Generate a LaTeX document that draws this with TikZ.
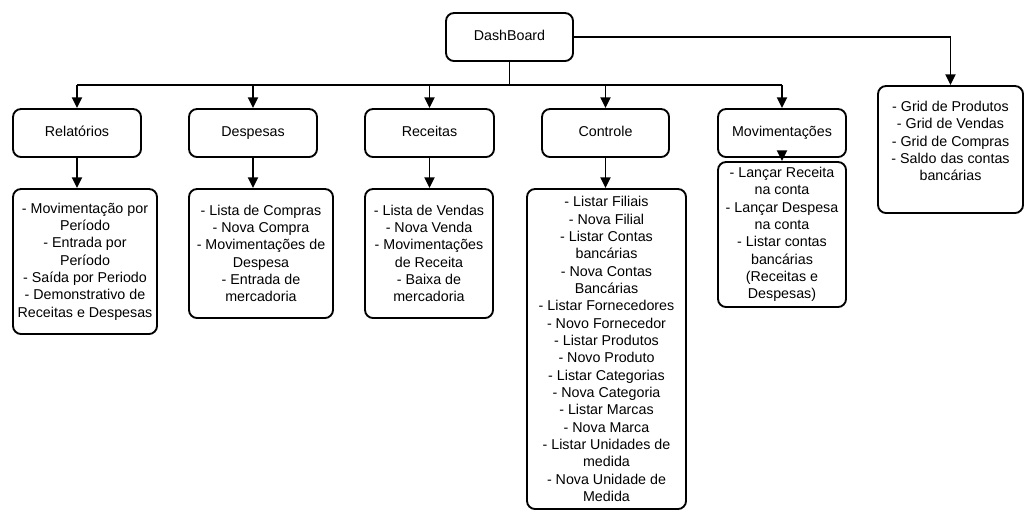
\documentclass[tikz,border=0pt]{standalone}
\usepackage{fontspec}
\setmainfont{Liberation Sans}
\usetikzlibrary{arrows.meta}
\begin{document}
\begin{tikzpicture}[x=0.75pt,y=-0.75pt,
  box/.style={draw, line width=1.4pt, rounded corners=6pt, inner sep=0pt, align=center,
    font=\fontsize{10.7}{13}\selectfont},
  one/.style={text height=7.7pt, text depth=2.3pt},
  arr/.style={line width=1.4pt, -{Triangle[width=7.5pt,length=8pt]}},
  ln/.style={line width=1.4pt}]
\useasboundingbox (0,0) rectangle (1036,526);
% level 0
\node[box, one, minimum width=127*0.75pt, minimum height=48*0.75pt] (dash) at (509.5,37) {DashBoard};
% level 1
\node[box, one, minimum width=128*0.75pt, minimum height=48*0.75pt] (rel) at (77,133) {Relatórios};
\node[box, one, minimum width=128*0.75pt, minimum height=48*0.75pt] (desp) at (253,133) {Despesas};
\node[box, one, minimum width=129*0.75pt, minimum height=48*0.75pt] (rec) at (429.5,133) {Receitas};
\node[box, one, minimum width=127*0.75pt, minimum height=48*0.75pt] (ctrl) at (605.5,133) {Controle};
\node[box, one, minimum width=128*0.75pt, minimum height=48*0.75pt] (mov) at (782,133) {Movimentações};
\node[box, minimum width=145*0.75pt, minimum height=127*0.75pt] (grid) at (950.5,149.5)
  {- Grid de Produtos\\- Grid de Vendas\\- Grid de Compras\\- Saldo das contas\\bancárias\\~};
% level 2
\node[box, minimum width=144*0.75pt, minimum height=145*0.75pt] (relc) at (85,261.5)
  {- Movimentação por\\Período\\- Entrada por\\Período\\- Saída por Periodo\\- Demonstrativo de\\Receitas e Despesas};
\node[box, minimum width=144*0.75pt, minimum height=129*0.75pt] (despc) at (261,253.5)
  {- Lista de Compras\\- Nova Compra\\- Movimentações de\\Despesa\\- Entrada de\\mercadoria};
\node[box, minimum width=128*0.75pt, minimum height=129*0.75pt] (recc) at (429,253.5)
  {- Lista de Vendas\\- Nova Venda\\- Movimentações\\de Receita\\- Baixa de\\mercadoria};
\node[box, minimum width=159*0.75pt, minimum height=320*0.75pt] (ctrlc) at (606.5,349)
  {- Listar Filiais\\- Nova Filial\\- Listar Contas\\bancárias\\- Nova Contas\\Bancárias\\- Listar Fornecedores\\- Novo Fornecedor\\- Listar Produtos\\- Novo Produto\\- Listar Categorias\\- Nova Categoria\\- Listar Marcas\\- Nova Marca\\- Listar Unidades de\\medida\\- Nova Unidade de\\Medida};
\node[box, minimum width=128*0.75pt, minimum height=145*0.75pt] (movc) at (782,234.5)
  {- Lançar Receita\\na conta\\- Lançar Despesa\\na conta\\- Listar contas\\bancárias\\(Receitas e\\Despesas)};
% connectors
\coordinate (bus) at (509.5,85);
\coordinate (busL) at (rel.north |- bus);
\coordinate (busR) at (mov.north |- bus);
\draw[ln] (dash.south) -- (bus);
\draw[ln] (busL) -- (busR);
\draw[arr] (busL) -- (rel.north);
\draw[arr] (desp.north |- bus) -- (desp.north);
\draw[arr] (rec.north |- bus) -- (rec.north);
\draw[arr] (ctrl.north |- bus) -- (ctrl.north);
\draw[arr] (busR) -- (mov.north);
\draw[arr] (dash.east) -| (grid.north);
\draw[arr] (rel.south) -- (rel.south |- relc.north);
\draw[arr] (desp.south) -- (desp.south |- despc.north);
\draw[arr] (rec.south) -- (rec.south |- recc.north);
\draw[arr] (ctrl.south) -- (ctrl.south |- ctrlc.north);
\draw[arr] (mov.south) -- (movc.north);
\end{tikzpicture}
\end{document}
